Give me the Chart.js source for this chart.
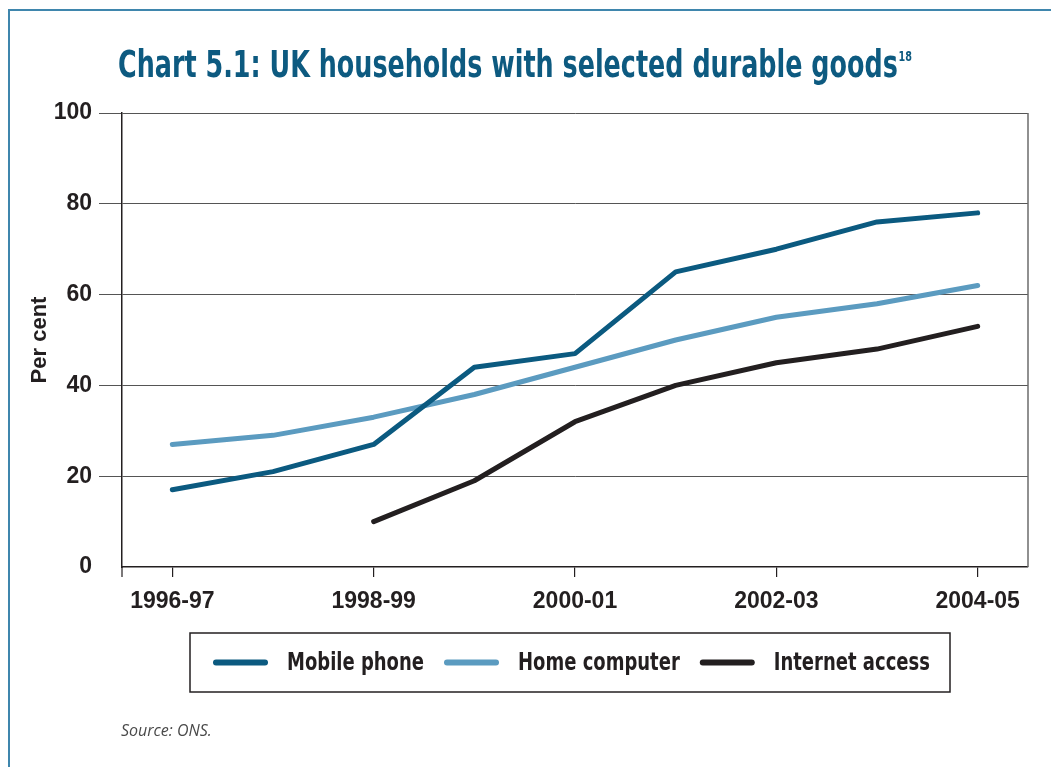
<!DOCTYPE html>
<html>
<head>
<meta charset="utf-8">
<title>UK households with selected durable goods</title>
<script src="https://cdn.jsdelivr.net/npm/chart.js@4.4.1/dist/chart.umd.min.js"></script>
<style>
  html, body { margin: 0; padding: 0; background: #ffffff; overflow: hidden; }
  #wrap { position: relative; width: 1051px; height: 767px; }
  #frame { position: absolute; left: 8px; top: 9px; width: 1060px; height: 780px;
           border-left: 2px solid #3f86ad; border-top: 2px solid #3f86ad; }
  canvas { position: absolute; left: 0; top: 0; }
</style>
</head>
<body>
<div id="wrap">
  <div id="frame"></div>
  <canvas id="chart" width="1051" height="767"></canvas>
</div>
<script>
// Survey years and the share of households (per cent) owning each item
const categories = ['1996-97', '1997-98', '1998-99', '1999-00', '2000-01', '2001-02', '2002-03', '2003-04', '2004-05'];
const mobilePhone    = [17, 21, 27, 44, 47, 65, 70, 76, 78];
const homeComputer   = [27, 29, 33, 38, 44, 50, 55, 58, 62];
const internetAccess = [null, null, 10, 19, 32, 40, 45, 48, 53];
const seriesNames = ['Mobile phone', 'Home computer', 'Internet access'];
const yTicks = [0, 20, 40, 60, 80, 100];

const titleText = 'Chart 5.1: UK households with selected durable goods';
const titleNote = '18';
const sourceText = 'Source: ONS.';

const CONDENSED = '"DejaVu Sans Condensed", "Liberation Sans", sans-serif';
const AXIS_FONT = '"Liberation Sans", "DejaVu Sans", sans-serif';
const INK = '#231f20';
const COLORS = ['#0b5a80', '#5b9bc0', '#231f20'];

// Text drawn squeezed horizontally by factor sx
function fillNarrow(ctx, text, x, y, sx) {
  ctx.save();
  ctx.translate(x, y);
  ctx.scale(sx, 1);
  ctx.fillText(text, 0, 0);
  ctx.restore();
}

// Title, plot frame extras, legend box and source note
const decorations = {
  id: 'decorations',
  afterDraw(chart) {
    const ctx = chart.ctx;
    const area = chart.chartArea;
    ctx.save();

    // right edge of the plot and the tick below the y axis
    ctx.strokeStyle = '#6b6b6b';
    ctx.lineWidth = 1.5;
    ctx.beginPath();
    ctx.moveTo(area.right, area.top);
    ctx.lineTo(area.right, area.bottom);
    ctx.stroke();
    ctx.strokeStyle = INK;
    ctx.lineWidth = 1.2;
    ctx.beginPath();
    ctx.moveTo(area.left, area.bottom);
    ctx.lineTo(area.left, area.bottom + 10);
    ctx.stroke();

    // title with its note number, fitted to its width
    ctx.fillStyle = '#0d5a80';
    ctx.textBaseline = 'alphabetic';
    ctx.textAlign = 'left';
    const mainFont = 'bold 37px ' + CONDENSED;
    const noteFont = 'bold 14px ' + CONDENSED;
    ctx.font = mainFont;
    const wMain = ctx.measureText(titleText).width;
    ctx.font = noteFont;
    const wNote = ctx.measureText(titleNote).width;
    const sx = Math.min(1.15, 794 / (wMain + 1 + wNote));
    ctx.save();
    ctx.translate(118, 77);
    ctx.scale(sx, 1);
    ctx.font = mainFont;
    ctx.fillText(titleText, 0, 0);
    ctx.font = noteFont;
    ctx.fillText(titleNote, wMain + 1, -16);
    ctx.restore();

    // legend
    const box = { left: 190, top: 633, right: 950, bottom: 692 };
    ctx.strokeStyle = INK;
    ctx.lineWidth = 1.5;
    ctx.strokeRect(box.left, box.top, box.right - box.left, box.bottom - box.top);
    const cy = (box.top + box.bottom) / 2;
    ctx.font = 'bold 25px ' + CONDENSED;
    const squeeze = 137 / ctx.measureText(seriesNames[0]).width;
    const sample = 55, gapText = 19, gapItem = 20;
    let x = 213;
    ctx.textBaseline = 'middle';
    chart.data.datasets.forEach(ds => {
      const w = ctx.measureText(ds.label).width * squeeze;
      ctx.strokeStyle = ds.borderColor;
      ctx.lineWidth = 6;
      ctx.lineCap = 'round';
      ctx.beginPath();
      ctx.moveTo(x + 3, cy);
      ctx.lineTo(x + sample - 3, cy);
      ctx.stroke();
      ctx.fillStyle = INK;
      fillNarrow(ctx, ds.label, x + sample + gapText, cy + 1, squeeze);
      x += sample + gapText + w + gapItem;
    });

    // source note
    ctx.fillStyle = '#4a4a4a';
    ctx.font = 'italic 16px "Open Sans", "Liberation Sans", sans-serif';
    ctx.textBaseline = 'middle';
    ctx.fillText(sourceText, 121, 731);
    ctx.restore();
  }
};

const lineStyle = (color) => ({
  borderColor: color,
  backgroundColor: color,
  borderWidth: 5,
  borderCapStyle: 'round',
  borderJoinStyle: 'round',
  pointRadius: 0,
  tension: 0,
  fill: false,
  spanGaps: false
});

new Chart(document.getElementById('chart'), {
  type: 'line',
  data: {
    labels: categories,
    datasets: [
      Object.assign({ label: seriesNames[0], data: mobilePhone }, lineStyle(COLORS[0])),
      Object.assign({ label: seriesNames[1], data: homeComputer }, lineStyle(COLORS[1])),
      Object.assign({ label: seriesNames[2], data: internetAccess }, lineStyle(COLORS[2]))
    ]
  },
  options: {
    responsive: false,
    animation: false,
    events: [],
    layout: { padding: { left: 0, right: 23, top: 113, bottom: 140 } },
    plugins: {
      legend: { display: false },
      title: { display: false },
      tooltip: { enabled: false }
    },
    scales: {
      x: {
        offset: true,
        grid: {
          offset: false,
          drawOnChartArea: false,
          drawTicks: true,
          tickLength: 10,
          lineWidth: 1.2,
          color: (c) => (c.index % 2 === 0 ? INK : 'rgba(0,0,0,0)')
        },
        border: { color: INK, width: 1.5 },
        ticks: {
          autoSkip: false,
          maxRotation: 0,
          padding: 11,
          color: INK,
          font: { family: AXIS_FONT, size: 23, weight: 'bold' },
          callback: (v, i) => (i % 2 === 0 ? categories[i] : '')
        },
        afterFit: (s) => { s.height = 60; }
      },
      y: {
        min: 0,
        max: 100,
        afterBuildTicks: (s) => { s.ticks = yTicks.map(v => ({ value: v })); },
        grid: {
          tickLength: 23,
          lineWidth: 1,
          color: (c) => (c.tick && c.tick.value === 0 ? 'rgba(0,0,0,0)' : '#555555')
        },
        border: { color: INK, width: 1.5 },
        ticks: {
          padding: 7,
          color: INK,
          font: { family: AXIS_FONT, size: 23, weight: 'bold' }
        },
        title: {
          display: true,
          text: 'Per cent',
          color: INK,
          font: { family: AXIS_FONT, size: 22, weight: 'bold' },
          padding: { top: 27, bottom: 0 }
        },
        afterFit: (s) => { s.width = 122; }
      }
    }
  },
  plugins: [decorations]
});
</script>
</body>
</html>
